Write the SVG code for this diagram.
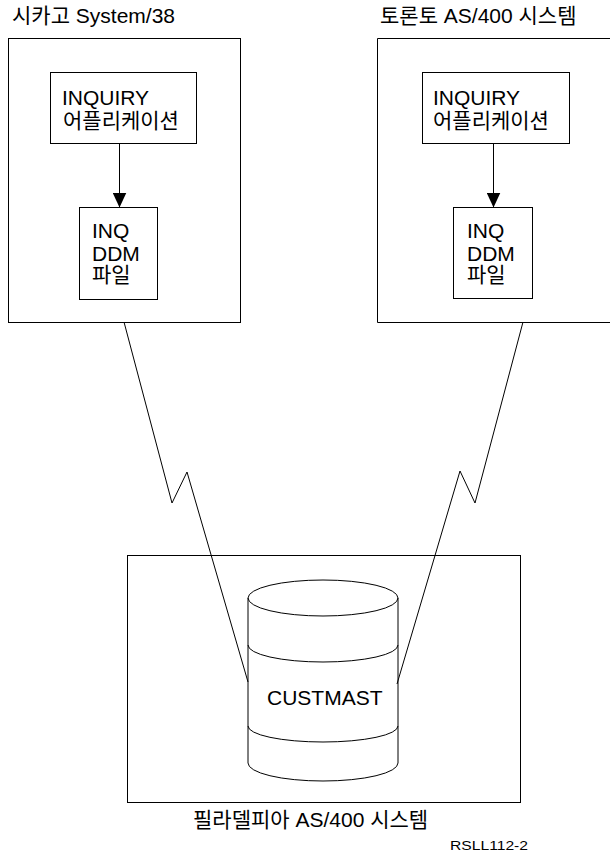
<svg xmlns="http://www.w3.org/2000/svg" width="610" height="854" viewBox="0 0 610 854">
<defs>
<style>
.box{fill:none;stroke:#000;stroke-width:1}
.ln{fill:none;stroke:#000;stroke-width:1}
.t{font-family:"Liberation Sans","Noto Sans CJK KR",sans-serif;font-size:21px;fill:#000}
.s{font-family:"Liberation Sans",sans-serif;font-size:13px;fill:#000}
</style>
<marker id="ah" viewBox="0 0 15 14" refX="15" refY="7" markerWidth="15" markerHeight="14" markerUnits="userSpaceOnUse" orient="auto">
<path d="M0,0 L15,7 L0,14 Z" fill="#000"/>
</marker>
</defs>
<rect width="610" height="854" fill="#fff"/>

<g id="chicago">
<text class="t" x="12" y="23">시카고 System/38</text>
<rect class="box" x="8.5" y="38.5" width="232" height="284"/>
</g>
<g id="chicago-app">
<rect class="box" x="50.5" y="72.5" width="146" height="71"/>
<text class="t" x="62" y="105">INQUIRY</text>
<text class="t" x="63" y="128">어플리케이션</text>
</g>
<g id="chicago-ddm">
<rect class="box" x="79.5" y="207.5" width="78" height="92"/>
<text class="t" x="92" y="238">INQ</text>
<text class="t" x="92" y="261">DDM</text>
<text class="t" x="92" y="282">파일</text>
</g>

<g id="toronto">
<text class="t" x="380" y="23">토론토 AS/400 시스템</text>
<path class="box" d="M612,38.5 H377.5 V322.5 H612"/>
</g>
<g id="toronto-app">
<rect class="box" x="422.5" y="72.5" width="147" height="71"/>
<text class="t" x="433" y="105">INQUIRY</text>
<text class="t" x="433" y="128">어플리케이션</text>
</g>
<g id="toronto-ddm">
<rect class="box" x="453.5" y="207.5" width="79" height="91"/>
<text class="t" x="467" y="238">INQ</text>
<text class="t" x="467" y="261">DDM</text>
<text class="t" x="467" y="282">파일</text>
</g>

<g id="philadelphia">
<rect class="box" x="127.5" y="555.5" width="393" height="247"/>
<text class="t" x="193" y="827">필라델피아 AS/400 시스템</text>
</g>
<g id="custmast">
<path class="box" d="M248,598 A75,18 0 0 1 398,598 V763 A75,18 0 0 1 248,763 Z" fill="#fff"/>
<path class="ln" d="M248,598 A75,18 0 0 0 398,598"/>
<path class="ln" d="M248,645 A75,17 0 0 0 398,645"/>
<path class="ln" d="M248,726 A75,16 0 0 0 398,726"/>
<text class="t" x="267" y="705">CUSTMAST</text>
</g>

<g id="connectors">
<line class="ln" x1="119.5" y1="143.5" x2="119.5" y2="207.5" marker-end="url(#ah)"/>
<line class="ln" x1="493.5" y1="143.5" x2="493.5" y2="207.5" marker-end="url(#ah)"/>
<polyline class="ln" points="124,322 172,503 187,472 248,682"/>
<polyline class="ln" points="523,322 475,503 460,471 397,684"/>
</g>

<text class="s" x="450" y="850" textLength="78" lengthAdjust="spacingAndGlyphs">RSLL112-2</text>
</svg>
